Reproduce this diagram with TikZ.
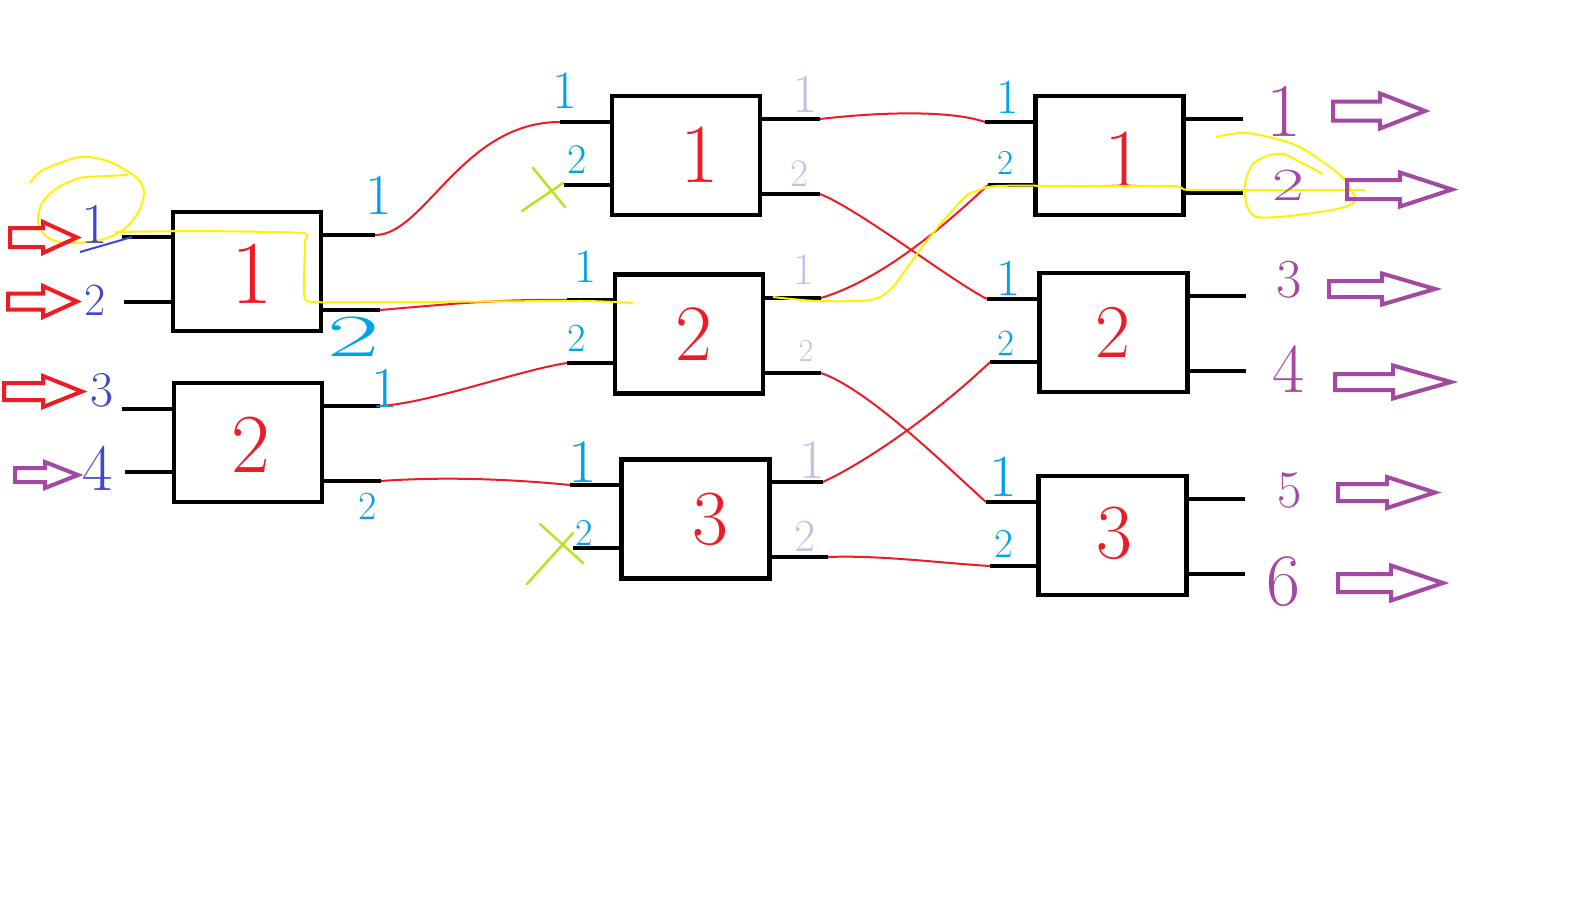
\documentclass[tikz,border=0pt]{standalone}
\usepackage{tikz}
\definecolor{pred}{HTML}{ED1C24}
\definecolor{pblue}{HTML}{3F48CC}
\definecolor{psky}{HTML}{00A2E8}
\definecolor{plav}{HTML}{C8BFE7}
\definecolor{ppurple}{HTML}{A349A4}
\definecolor{pyellow}{HTML}{FFF200}
\definecolor{pgreen}{HTML}{B5E61D}
\newcommand\fsz[1]{\fontsize{#1}{#1}\selectfont}
% hollow block arrow: start x, head base x, tip x, centre y, shaft half, head half
\newcommand\fatarr[7]{%
  \draw[#1,line width=4pt,line join=miter]
    (#2,#5-#6) -- (#3,#5-#6) -- (#3,#5-#7) -- (#4,#5) -- (#3,#5+#7)
    -- (#3,#5+#6) -- (#2,#5+#6) -- cycle;}
\begin{document}
\begin{tikzpicture}[x=1pt,y=-1pt,
  blk/.style={draw=black,line width=4.5pt,minimum width=148pt,minimum height=119pt,inner sep=0pt},
  stub/.style={black,line width=4.5pt},
  wire/.style={pred,line width=2pt},
  hl/.style={pyellow,line width=2pt},
  cross/.style={pgreen,line width=2.5pt,line cap=round},
  num/.style={text=pred,inner sep=0pt},
  inl/.style={text=pblue,inner sep=0pt},
  skl/.style={text=psky,inner sep=0pt},
  lvl/.style={text=plav,inner sep=0pt},
  pul/.style={text=ppurple,inner sep=0pt}]
\fill[white] (0,0) rectangle (1572,918);
\useasboundingbox (0,0) rectangle (1572,918);

% switching blocks
\node[blk] (s1b1) at (247,271.5) {};
\node[blk] (s1b2) at (248,442.5) {};
\node[blk] (s2b1) at (686,155.5) {};
\node[blk] (s2b2) at (689,334) {};
\node[blk] (s2b3) at (695.5,519) {};
\node[blk] (s3b1) at (1109.5,155.5) {};
\node[blk] (s3b2) at (1113.5,332.5) {};
\node[blk] (s3b3) at (1112.5,535.5) {};

% port ends
\coordinate (s1b1-i1) at (122,237);  \coordinate (s1b1-i2) at (124,302);
\coordinate (s1b1-o1) at (375,235);  \coordinate (s1b1-o2) at (380,310);
\coordinate (s1b2-i1) at (122,409);  \coordinate (s1b2-i2) at (125,472);
\coordinate (s1b2-o1) at (380,406);  \coordinate (s1b2-o2) at (381,481);
\coordinate (s2b1-i1) at (560,122);  \coordinate (s2b1-i2) at (564,185);
\coordinate (s2b1-o1) at (820,119);  \coordinate (s2b1-o2) at (820,194);
\coordinate (s2b2-i1) at (567,300);  \coordinate (s2b2-i2) at (567,363);
\coordinate (s2b2-o1) at (821,298);  \coordinate (s2b2-o2) at (821,373);
\coordinate (s2b3-i1) at (570,485);  \coordinate (s2b3-i2) at (573,548);
\coordinate (s2b3-o1) at (823,482);  \coordinate (s2b3-o2) at (828,557);
\coordinate (s3b1-i1) at (985,122);  \coordinate (s3b1-i2) at (988,185);
\coordinate (s3b1-o1) at (1243,119); \coordinate (s3b1-o2) at (1243,193);
\coordinate (s3b2-i1) at (987,299);  \coordinate (s3b2-i2) at (990,362);
\coordinate (s3b2-o1) at (1246,296); \coordinate (s3b2-o2) at (1246,371);
\coordinate (s3b3-i1) at (986,502);  \coordinate (s3b3-i2) at (990,566);
\coordinate (s3b3-o1) at (1245,499); \coordinate (s3b3-o2) at (1245,574);

\foreach \b in {s1b1,s1b2,s2b1,s2b2,s2b3,s3b1,s3b2,s3b3}{
  \draw[stub] (\b-i1) -- (\b-i1 -| \b.west);
  \draw[stub] (\b-i2) -- (\b-i2 -| \b.west);
  \draw[stub] (\b-o1) -- (\b-o1 -| \b.east);
  \draw[stub] (\b-o2) -- (\b-o2 -| \b.east);
}

% block numbers
\node[num,font=\fsz{90}] (s1b1-n) at (252,274) {1};
\node[num,font=\fsz{84}] (s1b2-n) at (251,445) {2};
\node[num,font=\fsz{84}] (s2b1-n) at (700,155) {1};
\node[num,font=\fsz{80}] (s2b2-n) at (694,334) {2};
\node[num,font=\fsz{78}] (s2b3-n) at (710,519) {3};
\node[num,font=\fsz{84}] (s3b1-n) at (1124,160) {1};
\node[num,font=\fsz{76}] (s3b2-n) at (1113,332) {2};
\node[num,font=\fsz{78}] (s3b3-n) at (1114,533) {3};

% links between the stages
\draw[wire] (s1b1-o1) .. controls (425,235) and (462,122) .. (s2b1-i1);
\draw[wire] (s1b1-o2) .. controls (450,304) and (500,299) .. (s2b2-i1);
\draw[wire] (s1b2-o1) .. controls (430,403) and (520,370) .. (s2b2-i2);
\draw[wire] (s1b2-o2) .. controls (450,476) and (520,480) .. (s2b3-i1);
\draw[wire] (s2b1-o1) .. controls (880,112) and (950,110) .. (s3b1-i1);
\draw[wire] (s2b1-o2) .. controls (860,210) and (950,280) .. (s3b2-i1);
\draw[wire] (s2b2-o1) .. controls (880,280) and (940,230) .. (s3b1-i2);
\draw[wire] (s2b2-o2) .. controls (870,390) and (950,470) .. (s3b3-i1);
\draw[wire] (s2b3-o1) .. controls (870,460) and (940,410) .. (s3b2-i2);
\draw[wire] (s2b3-o2) .. controls (880,555) and (940,563) .. (s3b3-i2);

% highlighted route
\draw[hl] plot[smooth] coordinates {(30,183) (43,170) (80,157) (110,162) (137,178)
  (144,193) (138,213) (123,230) (100,240) (67,243) (47,237) (38,222) (42,203)
  (57,188) (80,178) (107,176) (128,175)};
\draw[hl] plot[smooth,tension=0.3] coordinates {(115,232) (200,231) (303,233)
  (305,242) (304,294) (312,302) (400,302) (583,301) (633,303)};
\draw[hl] plot[smooth,tension=0.5] coordinates {(773,297) (817,301) (870,300)
  (890,290) (907,268) (920,250) (937,228) (953,210) (967,195) (977,191) (997,186)
  (1080,186) (1173,186) (1190,190) (1280,190) (1365,190)};
\draw[hl] plot[smooth] coordinates {(1216,137) (1247,133) (1293,144) (1323,162)
  (1343,178) (1355,197) (1353,203) (1337,209) (1290,216) (1257,217) (1247,206)
  (1245,185) (1252,165) (1267,156) (1283,154) (1300,162) (1323,174)};

% unused inputs
\draw[cross] (533,168) -- (565,207);
\draw[cross] (522,211) -- (563,183);
\draw[cross] (540,524) -- (583,563);
\draw[cross] (527,584) -- (573,533);

% input arrows and numbers
\fatarr{pred}{10}{43}{77}{237.5}{9.5}{15.5}
\fatarr{pred}{8}{43}{77}{301.5}{8}{15.5}
\fatarr{pred}{4}{43}{82}{391.5}{8.5}{15.5}
\fatarr{ppurple}{15}{45}{78}{475}{7}{13}
\node[inl,font=\fsz{58}] (in1) at (95,224) {1};
\draw[pblue,line width=2pt] (80,252) -- (132,237);
\node[inl,font=\fsz{46}] (in2) at (95,300) {2};
\node[inl,font=\fsz{50}] (in3) at (102,390) {3};
\node[inl,font=\fsz{66}] (in4) at (98,468) {4};

% port numbers, stage 1 outputs
\node[skl,font=\fsz{58}] (l11) at (379,195) {1};
\node[skl,font=\fsz{60}] (l12) at (354,337) {\scalebox{1.9}[1]{2}};
\node[skl,font=\fsz{58}] (l13) at (385,388) {1};
\node[skl,font=\fsz{40}] (l14) at (368,506) {2};
% stage 2 inputs
\node[skl,font=\fsz{54}] (l21) at (565,91) {1};
\node[skl,font=\fsz{42}] (l22) at (577,160) {2};
\node[skl,font=\fsz{48}] (l23) at (586,267) {1};
\node[skl,font=\fsz{40}] (l24) at (577,338) {2};
\node[skl,font=\fsz{62}] (l25) at (583,462) {1};
\node[skl,font=\fsz{38}] (l26) at (584,533) {2};
% stage 2 outputs
\node[lvl,font=\fsz{55}] (m21) at (805,94) {1};
\node[lvl,font=\fsz{39}] (m22) at (799,174) {2};
\node[lvl,font=\fsz{45}] (m23) at (804,270) {1};
\node[lvl,font=\fsz{32}] (m24) at (806,351) {2};
\node[lvl,font=\fsz{56}] (m25) at (812,460) {1};
\node[lvl,font=\fsz{46}] (m26) at (805,536) {2};
% stage 3 inputs
\node[skl,font=\fsz{49}] (l31) at (1008,97) {1};
\node[skl,font=\fsz{35}] (l32) at (1006,163) {2};
\node[skl,font=\fsz{52}] (l33) at (1008,278) {1};
\node[skl,font=\fsz{37}] (l34) at (1006,343) {2};
\node[skl,font=\fsz{60}] (l35) at (1003,477) {1};
\node[skl,font=\fsz{41}] (l36) at (1004,544) {2};

% outputs
\node[pul,font=\fsz{76}] (out1) at (1284,111) {1};
\node[pul,font=\fsz{46}] (out2) at (1288,185) {\scalebox{1.5}[1]{2}};
\node[pul,font=\fsz{55}] (out3) at (1289,280) {3};
\node[pul,font=\fsz{70}] (out4) at (1289,369) {4};
\node[pul,font=\fsz{53}] (out5) at (1290,490) {5};
\node[pul,font=\fsz{74}] (out6) at (1283,582) {6};
\fatarr{ppurple}{1333}{1380}{1425}{111}{9.5}{17.5}
\fatarr{ppurple}{1347}{1400}{1452}{189.5}{9.5}{17}
\fatarr{ppurple}{1329}{1382}{1435}{289}{8}{15.5}
\fatarr{ppurple}{1335}{1393}{1451}{382}{8}{16.5}
\fatarr{ppurple}{1338}{1387}{1435}{492.5}{8.5}{15.5}
\fatarr{ppurple}{1338}{1391}{1443}{583}{9}{17.5}
\end{tikzpicture}
\end{document}
